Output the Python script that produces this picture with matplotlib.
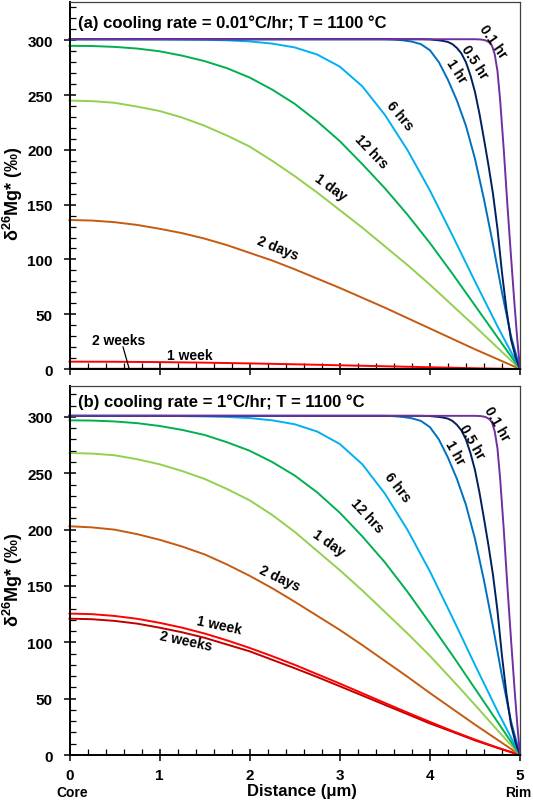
import matplotlib
matplotlib.use("Agg")
import matplotlib.pyplot as plt
from matplotlib.ticker import MultipleLocator

plt.rcParams['font.family'] = ['Liberation Sans', 'DejaVu Sans']
plt.rcParams['font.weight'] = 'bold'
plt.rcParams['mathtext.fontset'] = 'custom'
plt.rcParams['mathtext.rm'] = 'Liberation Sans:bold'
plt.rcParams['mathtext.bf'] = 'Liberation Sans:bold'

# 데이터 (distance from core, um) / delta26Mg* (permil)
x_slow = [0, 0.5, 1, 1.5, 2, 2.5, 3, 3.5, 4, 4.5, 5]
x_mid = [0, 0.25, 0.5, 0.75, 1, 1.25, 1.5, 1.75, 2, 2.25, 2.5, 2.75, 3, 3.25, 3.5, 3.75, 4,
         4.25, 4.5, 4.75, 5]
x_6h = [0, 1, 1.5, 1.75, 2, 2.25, 2.5, 2.75, 3, 3.25, 3.5, 3.75, 4, 4.25, 4.5, 4.75, 5]
x_1h = [0, 3.5, 3.6, 3.7, 3.8, 3.9, 4.0, 4.1, 4.2, 4.3, 4.4, 4.5, 4.6, 4.7, 4.8, 4.9, 5.0]
x_05h = [0, 3.9, 4.0, 4.1, 4.15, 4.2, 4.25, 4.3, 4.35, 4.4, 4.45, 4.5, 4.55, 4.6, 4.65, 4.7,
         4.75, 4.8, 4.85, 4.9, 4.95, 5.0]
x_01h = [0, 4.5, 4.56, 4.6, 4.63, 4.66, 4.69, 4.72, 4.75, 4.78, 4.82, 4.86, 4.9, 4.94, 4.97, 5.0]

# (a) 0.01 C/hr
a_2wk = [0.2, 0.2, 0.19, 0.17, 0.15, 0.13, 0.1, 0.07, 0.05, 0.02, 0]
a_1wk = [6.7, 6.6, 6.3, 5.8, 5.1, 4.3, 3.4, 2.5, 1.6, 0.7, 0]
a_2d = [136, 135.5, 134, 131.5, 128, 124, 119, 113, 106, 99, 91, 82.5, 74, 65, 56, 46.5, 37,
        27.5, 18, 9, 0]
a_1d = [245, 244.5, 243, 239.5, 235.5, 229.5, 222, 213, 203, 190, 176, 161, 145, 129, 112, 95, 77,
        58, 39, 19.5, 0]
a_12h = [295, 294.8, 294, 292.5, 290, 286, 281, 274.5, 266, 255, 242, 226, 208, 187, 165, 141, 115,
         87, 58, 29, 0]
a_6h = [301, 301, 300.5, 300, 299, 297, 293.5, 287, 276, 258, 232, 200, 163, 122, 80, 39, 0]
a_1h = [301, 301, 300.7, 300, 298.8, 296.5, 291, 280, 264, 245, 222, 192, 155, 114, 70, 30, 0]
a_05h = [301, 301, 300.8, 300, 299.4, 298.5, 296.5, 293, 288, 280, 268, 253, 233, 210, 186, 160,
         128, 88, 54, 27, 11, 0]
a_01h = [301, 301, 300.8, 300.3, 299.5, 298, 295, 287, 272, 245, 200, 150, 103, 58, 27, 0]

# (b) 1 C/hr
b_2wk = [121, 120.5, 119, 116.6, 113, 108.9, 104, 98, 92, 84.5, 77, 69.2, 61, 52.8, 44.5, 36.3, 28,
         20.6, 13, 6.3, 0]
b_1wk = [125.5, 125, 123.4, 120.9, 117.3, 113, 107.8, 101.7, 95, 87.7, 80, 71.7, 63.4, 54.8, 46.2,
         37.7, 29.4, 21.3, 13.7, 6.6, 0]
b_2d = [203, 202, 200, 196, 191, 185, 178, 169, 159, 148, 136, 123.5, 111, 97.5, 83.5, 69.5, 55,
        41, 27, 13.5, 0]
b_1d = [268, 267.5, 266, 262.5, 258, 252, 245, 236, 226, 213, 198, 181, 164, 146, 127, 108, 88,
        66.5, 44.5, 22, 0]
b_12h = [297, 296.8, 296, 294.5, 292, 288.5, 284, 277.5, 270, 260, 248, 233, 215, 194, 171, 145, 117,
         88.5, 59, 29.5, 0]
b_6h = [301, 301, 300.5, 300, 299, 297, 293.5, 287, 276, 258, 232, 200, 163, 122, 80, 39, 0]
b_1h = [301, 301, 300.7, 300, 298.8, 296.5, 291, 280, 264, 245, 222, 192, 155, 114, 70, 30, 0]
b_05h = [301, 301, 300.8, 300, 299.4, 298.5, 296.5, 293, 288, 280, 268, 253, 233, 210, 186, 160,
         128, 88, 54, 27, 11, 0]
b_01h = [301, 301, 300.8, 300.3, 299.5, 298, 295, 287, 272, 245, 200, 150, 103, 58, 27, 0]

names = ["2 weeks", "1 week", "2 days", "1 day", "12 hrs", "6 hrs", "1 hr", "0.5 hr", "0.1 hr"]
colors = ["#C00000", "#FF0000", "#C55A11", "#92D050", "#00B050", "#00B0F0", "#0070C0", "#002060", "#7030A0"]
xs_a = [x_slow, x_slow, x_mid, x_mid, x_mid, x_6h, x_1h, x_05h, x_01h]
xs_b = [x_mid, x_mid, x_mid, x_mid, x_mid, x_6h, x_1h, x_05h, x_01h]

# label placement (x, y, rotation)
a_lab = [(0.54, 26.5, 0), (1.34, 12.8, 0), (2.31, 110.5, -22), (2.90, 166.3, -36), (3.35, 198.7, -46),
         (3.67, 232, -50), (4.29, 272, -57), (4.49, 280.5, -57), (4.70, 299.7, -55)]
b_lab = [(1.29, 101.2, -12), (1.66, 115.4, -12), (2.33, 157, -25), (2.88, 189, -35), (3.30, 213, -47),
         (3.64, 238, -52), (4.28, 269, -60), (4.47, 278.7, -60), (4.745, 294.7, -60)]

fig = plt.figure(figsize=(5.33, 8.04), dpi=100)
ax_a = fig.add_axes([0.1304, 0.5398, 0.8452, 0.4565])
ax_b = fig.add_axes([0.1304, 0.0597, 0.8452, 0.4590])


def setup(ax, ymax, ylab_y):
    ax.set_xlim(0, 5)
    ax.set_ylim(0, ymax)
    ax.xaxis.set_major_locator(MultipleLocator(1))
    ax.xaxis.set_minor_locator(MultipleLocator(0.2))
    ax.yaxis.set_major_locator(MultipleLocator(50))
    ax.yaxis.set_minor_locator(MultipleLocator(10))
    ax.tick_params(which='major', direction='inout', length=8, width=1.1, labelsize=11)
    ax.tick_params(axis='y', which='major', pad=8)
    ax.tick_params(axis='x', which='major', pad=5)
    ax.tick_params(which='minor', direction='in', length=4, width=0.9)
    for s in ['left', 'bottom']:
        ax.spines[s].set_linewidth(1.4)
        ax.spines[s].set_color('black')
    for s in ['top', 'right']:
        ax.spines[s].set_linewidth(0.9)
        ax.spines[s].set_color('#404040')
    for lab in ax.get_xticklabels() + ax.get_yticklabels():
        lab.set_fontweight('bold')
    ax.set_ylabel(r'δ$^{26}$Mg* (‰)', fontsize=13, fontweight='bold')
    ax.yaxis.set_label_coords(-0.099, ylab_y)


setup(ax_a, 335, 0.48)
setup(ax_b, 327.5, 0.477)
ax_a.tick_params(axis='x', labelbottom=False)

for ax, xs, ys, labs in [(ax_a, xs_a, [a_2wk, a_1wk, a_2d, a_1d, a_12h, a_6h, a_1h, a_05h, a_01h], a_lab),
                         (ax_b, xs_b, [b_2wk, b_1wk, b_2d, b_1d, b_12h, b_6h, b_1h, b_05h, b_01h], b_lab)]:
    for x, y, c, n, (lx, ly, rot) in zip(xs, ys, colors, names, labs):
        ax.plot(x, y, color=c, lw=1.4, clip_on=False, solid_joinstyle='round')
        ax.text(lx, ly, n, fontsize=10, fontweight='bold', rotation=rot,
                ha='center', va='center', rotation_mode='anchor')

ax_a.plot([0.594, 0.66], [20.1, 0.9], color='black', lw=0.9)

ax_a.text(0.019, 0.946, '(a) cooling rate = 0.01°C/hr; T = 1100 °C', transform=ax_a.transAxes,
          fontsize=12, fontweight='bold', ha='left', va='center')
ax_b.text(0.019, 0.959, '(b) cooling rate = 1°C/hr; T = 1100 °C', transform=ax_b.transAxes,
          fontsize=12, fontweight='bold', ha='left', va='center')

fig.text(302 / 533, 1 - 792 / 804, 'Distance (μm)', fontsize=12, fontweight='bold', ha='center', va='center')
fig.text(72 / 533, 1 - 793 / 804, 'Core', fontsize=10, fontweight='bold', ha='center', va='center')
fig.text(518 / 533, 1 - 793 / 804, 'Rim', fontsize=10, fontweight='bold', ha='center', va='center')

fig.savefig("out.png", dpi=100)
